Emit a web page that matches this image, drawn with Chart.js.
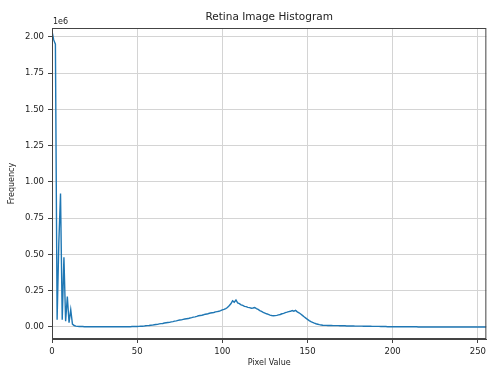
<!DOCTYPE html>
<html>
<head>
<meta charset="utf-8">
<script src="https://cdn.jsdelivr.net/npm/chart.js@4/dist/chart.umd.min.js"></script>
<style>
  html, body { margin: 0; padding: 0; background: #fff; }
  #wrap { width: 490px; height: 365px; position: relative; }
</style>
</head>
<body>
<div id="wrap"><canvas id="histChart"></canvas></div>
<script>
// frequency per pixel value, in units of 1e6
const freqDark = [2.04, 1.98, 1.95, 0.05, 0.58, 0.92, 0.05, 0.48, 0.04, 0.21, 0.03, 0.12, 0.02, 0.01, 0.006]; // 0-14
const freqFlat = [
  0.004, 0.003, 0.003, 0.003, 0.002, 0.002, 0.002, 0.002, 0.002, 0.002,
  0.002, 0.002, 0.002, 0.002, 0.002, 0.002, 0.002, 0.002, 0.002, 0.002,
  0.002, 0.002, 0.002, 0.002, 0.002, 0.002, 0.002, 0.002, 0.002, 0.002,
  0.002, 0.002, 0.003, 0.003, 0.003
]; // 15-49
const freqRise = [
  0.003, 0.004, 0.005, 0.005, 0.006, 0.008, 0.009, 0.010, 0.012, 0.013,
  0.015, 0.017, 0.018, 0.021, 0.023, 0.024, 0.027, 0.029, 0.031, 0.032,
  0.035, 0.037, 0.040, 0.042, 0.045, 0.048, 0.049, 0.052, 0.055, 0.057,
  0.058, 0.062, 0.064, 0.068, 0.070, 0.073, 0.077, 0.079, 0.081, 0.084,
  0.088, 0.089, 0.093, 0.096, 0.098, 0.100, 0.104, 0.106, 0.108, 0.112
]; // 50-99
const freqPeaks = [
  0.118, 0.121, 0.127, 0.134, 0.146, 0.160, 0.180, 0.171, 0.186, 0.166,
  0.161, 0.152, 0.149, 0.142, 0.140, 0.135, 0.133, 0.129, 0.131, 0.134,
  0.126, 0.121, 0.113, 0.108, 0.101, 0.096, 0.091, 0.087, 0.082, 0.079,
  0.077, 0.078, 0.080, 0.083, 0.086, 0.091, 0.094, 0.099, 0.102, 0.106,
  0.108, 0.113, 0.109, 0.114, 0.104, 0.098, 0.089, 0.080, 0.070, 0.061,
  0.052, 0.044, 0.037, 0.031, 0.026, 0.022, 0.019, 0.016, 0.014, 0.012
]; // 100-159
const freqTail = [
  0.011, 0.011, 0.010, 0.010, 0.010, 0.009, 0.009, 0.009, 0.009, 0.008,
  0.008, 0.008, 0.008, 0.007, 0.007, 0.007, 0.007, 0.007, 0.006, 0.006,
  0.006, 0.006, 0.006, 0.005, 0.005, 0.005, 0.005, 0.005, 0.004, 0.004,
  0.004, 0.004, 0.004, 0.003, 0.003, 0.003, 0.003, 0.002, 0.002, 0.002
]; // 160-199
const freqBright = [
  0.001, 0.001, 0.001, 0.001, 0.001, 0.001, 0.001, 0.001, 0.001, 0.001,
  0.001, 0.001, 0.001, 0.001, 0.001, 0, 0, 0, 0, 0,
  0, 0, 0, 0, 0, 0, 0, 0, 0, 0,
  0, 0, 0, 0, 0, 0, 0, 0, 0, 0,
  0, 0, 0, 0, 0, 0, 0, 0, 0, 0,
  0, 0, 0, 0, 0, 0
]; // 200-255

const freq = [...freqDark, ...freqFlat, ...freqRise, ...freqPeaks, ...freqTail, ...freqBright];
const pixelValues = freq.map((_, i) => i);

const xTicks = [0, 50, 100, 150, 200, 250];
const yTicks = [0, 0.25, 0.5, 0.75, 1.0, 1.25, 1.5, 1.75, 2.0];

const FONT = 'DejaVu Sans';
const AXIS = '#444';
const GRID = '#d4d4d4';

// title, offset text, axis labels and the top/right spines
const decorations = {
  id: 'decorations',
  afterDraw(chart) {
    const { ctx, chartArea: a } = chart;
    ctx.save();
    ctx.strokeStyle = AXIS;
    ctx.lineWidth = 1;
    ctx.strokeRect(a.left + 0.5, a.top + 0.5, a.right - a.left - 1, a.bottom - a.top - 1);

    ctx.fillStyle = '#222';
    ctx.textAlign = 'center';
    ctx.textBaseline = 'middle';
    ctx.font = `10.5px "${FONT}"`;
    ctx.fillText('Retina Image Histogram', (a.left + a.right) / 2, 17);

    ctx.font = `8px "${FONT}"`;
    ctx.textAlign = 'left';
    ctx.fillText('1e6', a.left + 1, 22);

    ctx.textAlign = 'center';
    ctx.textBaseline = 'top';
    ctx.fillText('Pixel Value', (a.left + a.right) / 2, 359);

    ctx.translate(12, (a.top + a.bottom) / 2);
    ctx.rotate(-Math.PI / 2);
    ctx.textBaseline = 'middle';
    ctx.fillText('Frequency', 0, 0);
    ctx.restore();
  }
};

new Chart(document.getElementById('histChart'), {
  type: 'line',
  data: {
    labels: pixelValues,
    datasets: [{
      data: freq,
      borderColor: '#1f77b4',
      borderWidth: 1.4,
      pointRadius: 0,
      tension: 0,
      fill: false
    }]
  },
  options: {
    responsive: true,
    maintainAspectRatio: false,
    animation: false,
    layout: { padding: { top: 28, right: 3, left: 0, bottom: 0 } },
    plugins: {
      legend: { display: false },
      tooltip: { enabled: false }
    },
    scales: {
      x: {
        type: 'linear',
        min: 0,
        max: 255,
        afterFit: (s) => { s.height = 26; },
        afterBuildTicks: (s) => { s.ticks = xTicks.map(v => ({ value: v })); },
        grid: { color: GRID, tickColor: AXIS, tickLength: 4 },
        border: { display: true, color: AXIS },
        ticks: {
          color: '#222',
          padding: 4,
          maxRotation: 0,
          font: { family: FONT, size: 8.5 },
          callback: (v) => String(v)
        }
      },
      y: {
        min: -0.083,
        max: 2.062,
        afterFit: (s) => { s.width = 52; },
        afterBuildTicks: (s) => { s.ticks = yTicks.map(v => ({ value: v })); },
        grid: { color: GRID, tickColor: AXIS, tickLength: 4 },
        border: { display: true, color: AXIS },
        ticks: {
          color: '#222',
          padding: 4,
          font: { family: FONT, size: 8.5 },
          callback: (v) => Number(v).toFixed(2)
        }
      }
    }
  },
  plugins: [decorations]
});
</script>
</body>
</html>
